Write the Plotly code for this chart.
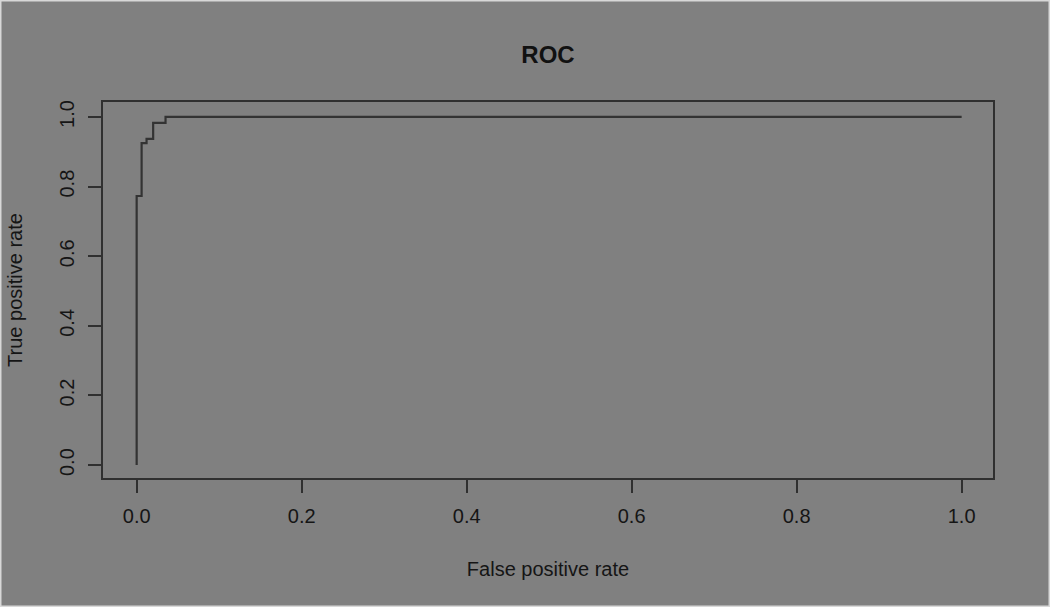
import plotly.graph_objects as go

fpr = [0.0, 0.0, 0.006, 0.012, 0.020, 0.035, 1.0]
tpr = [0.0, 0.773, 0.925, 0.937, 0.983, 1.0, 1.0]
tick_vals = [0.0, 0.2, 0.4, 0.6, 0.8, 1.0]
tick_text = ["0.0", "0.2", "0.4", "0.6", "0.8", "1.0"]

BG = "#808080"
INK = "#151515"
LINE = "#303030"
FONT = "Liberation Sans, Arial, sans-serif"

fig = go.Figure()
fig.add_trace(go.Scatter(x=fpr, y=tpr, mode="lines", line=dict(color="#333333", width=2.2, shape="hv"),
                         showlegend=False, hoverinfo="skip"))

L, R, T, B = 103, 57, 102, 129
W, H = 1050, 607
pw, ph = W - L - R, H - T - B

fig.update_layout(
    width=W, height=H,
    paper_bgcolor=BG, plot_bgcolor=BG,
    margin=dict(l=L, r=R, t=T, b=B, pad=0),
    font=dict(family=FONT, color=INK, size=20),
    title=dict(text="<b>ROC</b>", x=(L + pw / 2) / W, xanchor="center", y=1 - 55 / H, yanchor="middle",
               font=dict(size=24, color="#111111", family=FONT)),
    xaxis=dict(range=[-0.0408, 1.038], tickvals=tick_vals, ticktext=tick_text, ticks="outside", ticklen=13,
               tickwidth=2, tickcolor=LINE, showgrid=False, zeroline=False, showline=True, linecolor=LINE,
               linewidth=2, mirror=True, ticklabelstandoff=6, tickfont=dict(size=20, color=INK),
               title=dict(text="False positive rate", font=dict(size=20, color=INK), standoff=36)),
    yaxis=dict(range=[-0.037, 1.043], tickvals=tick_vals, ticktext=tick_text, ticks="outside", ticklen=13,
               tickwidth=2, tickcolor=LINE, showgrid=False, zeroline=False, showline=True, linecolor=LINE,
               linewidth=2, mirror=True, tickangle=-90, ticklabelstandoff=6, tickfont=dict(size=20, color=INK),
               title=dict(text="True positive rate", font=dict(size=20, color=INK), standoff=28)),
    shapes=[dict(type="rect", xref="paper", yref="paper",
                 x0=-L / pw + 0.5 / pw, x1=(W - L) / pw - 0.5 / pw,
                 y0=-B / ph + 0.5 / ph, y1=(H - B) / ph - 0.5 / ph,
                 line=dict(color="#d8d8d8", width=2), layer="below")],
)

fig.write_html("out.html")
